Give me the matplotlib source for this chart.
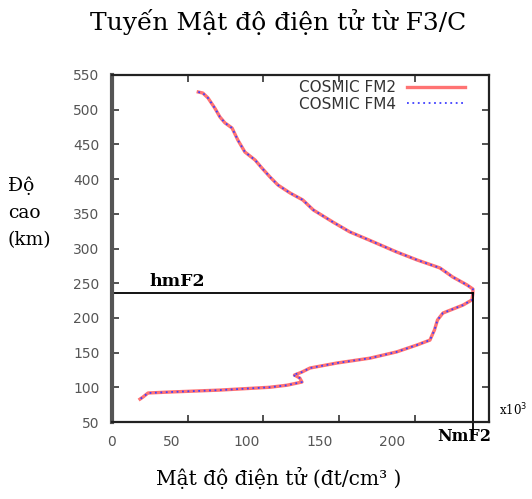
import matplotlib.pyplot as plt
from matplotlib.transforms import ScaledTranslation

# Electron density profile (x10^3 el/cm^3) vs altitude (km)
fm2_density = [57, 60, 63.4, 68, 71.3, 74.6, 79.3, 83.2, 87.8, 94.5, 99, 104.4, 109.6,
               117.6, 126, 133, 146, 157, 170, 188, 201.5, 216.6, 225, 234.5, 238.4,
               238.4, 237.8, 232, 218.6, 215, 213, 210, 201.5, 188, 170.4, 148.6,
               130.8, 125.5, 120.5, 124, 125.5, 115.6, 104, 99.7, 71.3, 38.3, 23.8,
               20.5, 18.5]
fm2_alt = [525.5, 524, 517, 502, 489.5, 481, 473.6, 456, 439, 427.5, 416, 403, 391.5,
           380, 370, 355.5, 338, 324, 312, 295, 283.5, 272, 259, 247.5, 241.6,
           236, 226, 218.6, 207, 197, 182.6, 168, 161, 151, 142, 135,
           127.8, 122, 117.7, 113.4, 107.6, 103, 100, 99.5, 96, 93.2, 91.8,
           86, 83]
fm4_density = [57, 60, 63.4, 68, 71.3, 74.6, 79.3, 83.2, 87.8, 94.5, 99, 104.4, 109.6,
               117.6, 126, 133, 146, 157, 170, 188, 201.5, 216.6, 225, 234.5, 238.4,
               238.4, 237.8, 232, 218.6, 215, 213, 210, 201.5, 188, 170.4, 148.6,
               130.8, 125.5, 119.5, 124, 125.5, 115.6, 104, 99.7, 71.3, 38.3, 23.8,
               20.5, 18.5]
fm4_alt = fm2_alt

nmf2 = 238.4
hmf2 = 236

xticks = [0, 50, 100, 150, 200]
yticks = [50, 100, 150, 200, 250, 300, 350, 400, 450, 500, 550]

serif = 'DejaVu Serif'
sans = 'DejaVu Sans'

fig = plt.figure(figsize=(5.32, 4.99), dpi=100)
ax = fig.add_axes([0.2105, 0.1543, 0.7086, 0.6954])

ax.plot(fm2_density, fm2_alt, color='#ff5a5a', lw=2.4, alpha=0.85, label='COSMIC FM2')
ax.plot(fm4_density, fm4_alt, color='#4040ff', lw=1.3, ls=(0, (1, 2)), label='COSMIC FM4')

# hmF2 / NmF2 guide lines
ax.plot([0, nmf2], [hmf2, hmf2], color='black', lw=1.3, clip_on=False)
ax.plot([nmf2, nmf2], [hmf2, 34], color='black', lw=1.3, clip_on=False)

ax.set_xlim(0, 249)
ax.set_ylim(50, 550)
ax.set_xticks(xticks)
ax.set_yticks(yticks)
ax.tick_params(direction='in', length=5, width=1.2, top=True, right=True,
               labelsize=10, colors='#333333')
ax.tick_params(axis='y', pad=9)
ax.tick_params(axis='x', pad=9)
for lab in ax.get_xticklabels() + ax.get_yticklabels():
    lab.set_fontfamily(sans)
    lab.set_color('#555555')
offsets = [0, -16, -17, -19, -23]
for lab, dx in zip(ax.get_xticklabels(), offsets):
    lab.set_transform(lab.get_transform() + ScaledTranslation(dx / 100, 0, fig.dpi_scale_trans))

for side in ['top', 'right', 'bottom']:
    ax.spines[side].set_linewidth(1.6)
    ax.spines[side].set_color('#222222')
ax.spines['left'].set_linewidth(3)
ax.spines['left'].set_color('#555555')

leg = ax.legend(loc='upper right', bbox_to_anchor=(0.936, 0.985), frameon=False,
                markerfirst=False, handlelength=3.8, handletextpad=0.7,
                borderpad=0, borderaxespad=0, labelspacing=0.1,
                prop={'family': sans, 'size': 11})
for t in leg.get_texts():
    t.set_color('#333333')

ax.text(25, hmf2 + 4, 'hmF2', family=serif, fontweight='bold', fontsize=12.5,
        va='bottom', ha='left')
ax.text(0.862, -0.043, 'NmF2', transform=ax.transAxes, family=serif, fontweight='bold',
        fontsize=11.5, va='center', ha='left')
ax.text(1.027, 0.035, 'x10$^3$', transform=ax.transAxes, family=serif, fontsize=8.5,
        va='center', ha='left')

fig.text(0.522, 0.955, 'Tuyến Mật độ điện tử từ F3/C', family=serif, fontsize=18,
         ha='center', va='center')
fig.text(0.523, 0.042, 'Mật độ điện tử (đt/cm³ )', family=serif, fontsize=14.5,
         ha='center', va='center')
fig.text(0.015, 0.573, 'Độ\ncao\n(km)', family=serif, fontsize=13.5,
         ha='left', va='center', linespacing=1.65)

fig.savefig('out.png', dpi=100)
